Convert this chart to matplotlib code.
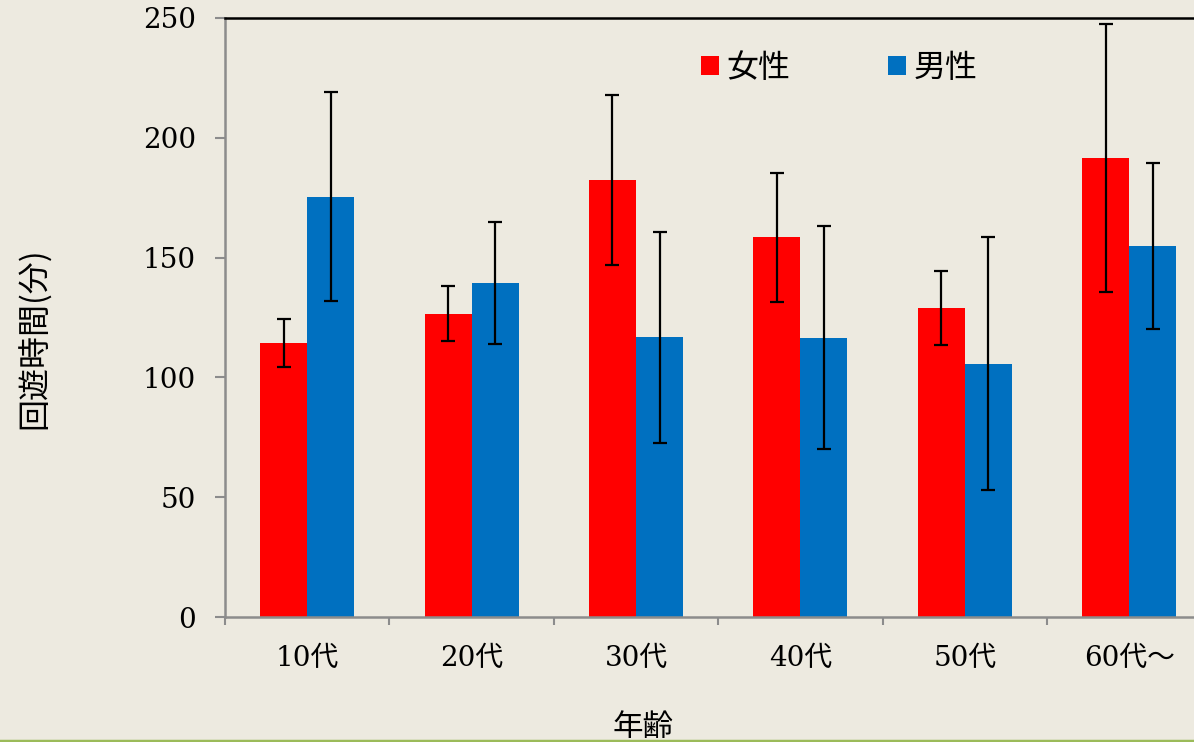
import matplotlib
matplotlib.use("Agg")
import matplotlib.pyplot as plt
import numpy as np
from matplotlib.patches import Patch

# Age groups and mean swimming time (minutes) with error bars
categories = ["10代", "20代", "30代", "40代", "50代", "60代～"]
female_mean = [114.5, 126.5, 182.5, 158.5, 129.0, 191.5]
female_err = [10.0, 11.5, 35.5, 27.0, 15.5, 56.0]
male_mean = [175.5, 139.5, 116.8, 116.5, 105.8, 154.8]
male_err = [43.5, 25.5, 44.0, 46.5, 52.8, 34.5]
yticks = [0, 50, 100, 150, 200, 250]

BG = "#EDEAE0"
RED = "#FF0000"
BLUE = "#0070C0"
GRAY = "#8C8C8C"

num_font = ["DejaVu Serif", "Noto Sans CJK JP", "DejaVu Sans"]
cjk_font = ["Noto Sans CJK JP", "DejaVu Sans"]

fig = plt.figure(figsize=(11.94, 7.42), dpi=100, facecolor=BG)
ax = fig.add_axes([225 / 1194, 125 / 742, (1211.4 - 225) / 1194, (617 - 18) / 742])
ax.set_facecolor(BG)

x = np.arange(len(categories))
w = 0.286
err_kw = dict(ecolor="black", elinewidth=1.6, capsize=5, capthick=1.6)
ax.bar(x - w / 2, female_mean, w, color=RED, yerr=female_err, error_kw=err_kw,
       label="女性", zorder=2)
ax.bar(x + w / 2, male_mean, w, color=BLUE, yerr=male_err, error_kw=err_kw,
       label="男性", zorder=2)

ax.set_xlim(-0.5, len(categories) - 0.5)
ax.set_ylim(0, 250)
ax.set_yticks(yticks)
ax.set_yticklabels([str(v) for v in yticks], fontfamily=num_font, fontsize=20)
ax.set_xticks(np.arange(len(categories) + 1) - 0.5, minor=False)
ax.set_xticklabels([])
ax.set_xticks(x, minor=True)
ax.set_xticklabels(categories, minor=True, fontfamily=num_font, fontsize=20)

ax.tick_params(axis="y", which="major", length=7, width=1.5, color=GRAY, pad=14)
ax.tick_params(axis="x", which="major", length=6, width=1.5, color=GRAY)
ax.tick_params(axis="x", which="minor", length=0, pad=20)

for side in ("left", "bottom"):
    ax.spines[side].set_color(GRAY)
    ax.spines[side].set_linewidth(1.8)
ax.spines["top"].set_color("black")
ax.spines["top"].set_linewidth(1.8)
ax.spines["right"].set_visible(False)

ax.set_ylabel("回遊時間(分)", fontfamily=cjk_font, fontsize=23, labelpad=0)
ax.yaxis.set_label_coords(-0.176, 0.465)
fig.text(643 / 1194, 1 - 728 / 742, "年齢", fontfamily=cjk_font, fontsize=22,
         ha="center", va="center")

handles = [Patch(facecolor=RED, label="女性"), Patch(facecolor=BLUE, label="男性")]
ax.legend(handles=handles, ncol=2, frameon=False, loc="center left",
          bbox_to_anchor=((701 - 225) / (1211.4 - 225), 1 - (68 - 18) / 599),
          prop={"family": cjk_font, "size": 23},
          handlelength=0.55, handleheight=0.55, handletextpad=0.25,
          columnspacing=3.05, borderaxespad=0, borderpad=0)

# green rule along the bottom edge
fig.add_artist(plt.Line2D([0, 1], [1.5 / 742, 1.5 / 742], color="#9BBB59",
                          linewidth=2.5, transform=fig.transFigure))

fig.savefig("out.png", dpi=100, facecolor=BG)
